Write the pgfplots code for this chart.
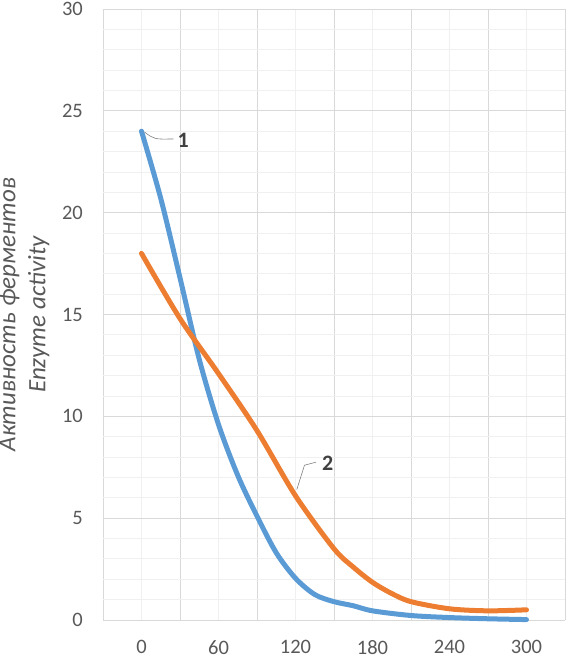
\documentclass[border=0pt]{standalone}
\usepackage{pgfplots}
\pgfplotsset{compat=1.18}
\usepackage{fontspec}
\setmainfont{Carlito}
\definecolor{sblue}{HTML}{5B9BD5}
\definecolor{sorange}{HTML}{ED7D31}
\definecolor{tgrey}{HTML}{595959}
\definecolor{gmaj}{HTML}{D9D9D9}
\definecolor{gmin}{HTML}{F0F0F0}
\begin{document}
\begin{tikzpicture}
\begin{axis}[
  name=ax,
  at={(0,0)}, anchor=south west,
  scale only axis, width=462pt, height=611pt,
  xmin=-30, xmax=330, ymin=0, ymax=30,
  xtick={0,60,...,300},
  minor xtick={-30,30,90,150,210,270,330},
  ytick={0,5,...,30},
  minor ytick={1,2,3,4,6,7,8,9,11,12,13,14,16,17,18,19,21,22,23,24,26,27,28,29},
  xmajorgrids, xminorgrids, ymajorgrids, yminorgrids,
  major x grid style={draw=gmin, line width=0.8pt},
  minor x grid style={draw=gmaj, line width=0.9pt},
  major y grid style={draw=gmaj, line width=0.9pt},
  minor y grid style={draw=gmin, line width=0.8pt},
  axis line style={draw=none},
  major tick length=0pt, minor tick length=0pt,
  tick style={draw=none},
  /pgf/number format/assume math mode=true,
  tick label style={font=\fontsize{20.5}{20.5}\selectfont, text=tgrey, inner sep=0pt},
  yticklabel style={anchor=east, xshift=-20pt},
  xticklabel style={anchor=north, yshift=-20pt},
  clip=false,
]
\addplot[sblue, line width=5pt, smooth, tension=0.5, line cap=round, line join=round] coordinates {
 (0,24) (15,20.7) (30,16.8) (45,12.8) (60,9.6) (75,7.1) (90,5.1) (105,3.3)
 (120,2.05) (135,1.25) (150,0.9) (165,0.7) (180,0.45) (210,0.22) (240,0.12)
 (270,0.06) (300,0.02)
};
\addplot[sorange, line width=5pt, smooth, tension=0.5, line cap=round, line join=round] coordinates {
 (0,18) (30,14.8) (60,12.1) (90,9.3) (120,6.1) (150,3.5) (165,2.6) (180,1.85)
 (195,1.3) (210,0.9) (240,0.55) (270,0.45) (300,0.5)
};
\draw[color=gray, line width=0.6pt] (axis cs:2.5,23.95) .. controls (axis cs:10,23.6) .. (axis cs:25,23.62);
\node[font=\bfseries\fontsize{22}{22}\selectfont, text=black!75] at (axis cs:32.5,23.55) {1};
\draw[color=gray, line width=0.6pt] (axis cs:121,6.4) -- (axis cs:127,7.6) -- (axis cs:136,7.75);
\node[font=\bfseries\fontsize{22}{22}\selectfont, text=black!75] at (axis cs:145,7.7) {2};
\end{axis}
\path (ax.west) ++(-79pt,0) node[rotate=90, align=center, font=\itshape\fontsize{25}{30}\selectfont, text=tgrey] {Активность ферментов\\Enzyme activity};
\pgfresetboundingbox
\path (-103pt,-36pt) rectangle (464pt,620pt);
\end{tikzpicture}
\end{document}
